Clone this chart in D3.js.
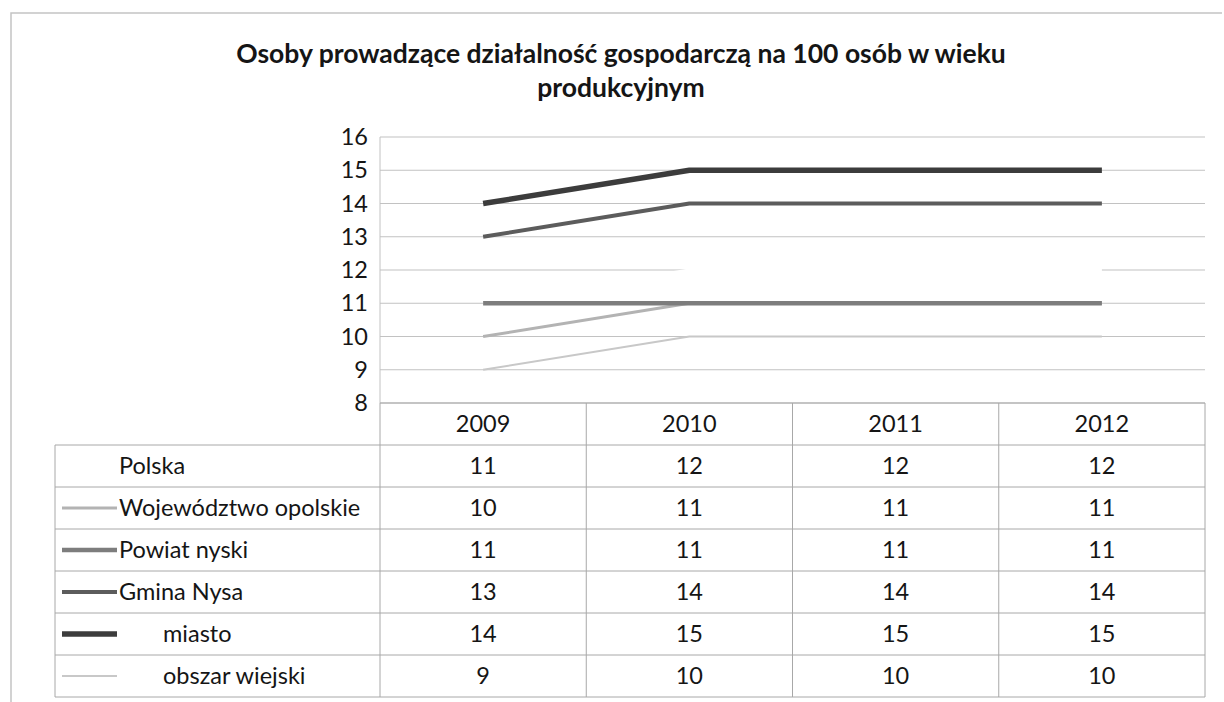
<!DOCTYPE html>
<html>
<head>
<meta charset="utf-8">
<script src="https://cdn.jsdelivr.net/npm/d3@7"></script>
<style>
  body { margin: 0; background: #fff; }
  svg text { font-family: Lato, "Open Sans", sans-serif; fill: #151515; }
</style>
</head>
<body>
<svg id="chart" width="1224" height="702"></svg>
<script>
// chart data
const years = ["2009", "2010", "2011", "2012"];
const seriesNames = ["Polska", "Województwo opolskie", "Powiat nyski", "Gmina Nysa", "miasto", "obszar wiejski"];
const seriesValues = [
  [11, 12, 12, 12],
  [10, 11, 11, 11],
  [11, 11, 11, 11],
  [13, 14, 14, 14],
  [14, 15, 15, 15],
  [9, 10, 10, 10]
];
const yTicks = [8, 9, 10, 11, 12, 13, 14, 15, 16];
const titleLines = ["Osoby prowadzące działalność gospodarczą na 100 osób w wieku", "produkcyjnym"];

// line look per series (grayscale, as printed)
const lineStyle = [
  { color: "#ffffff", width: 3, indent: false },
  { color: "#b3b3b3", width: 3, indent: false },
  { color: "#7d7d7d", width: 4.5, indent: false },
  { color: "#5c5c5c", width: 4, indent: false },
  { color: "#3c3c3c", width: 5.5, indent: true },
  { color: "#c8c8c8", width: 2, indent: true }
];

const svg = d3.select("#chart");
const plot = { left: 380, right: 1205, top: 137, bottom: 403 };
const rowH = 42;
const tableLeft = 55;
const fontSize = 23.5;

// outer frame (only top + left survive the scan)
svg.append("path")
  .attr("d", "M11,702 L11,13 L1222,13")
  .attr("fill", "none")
  .attr("stroke", "#c4c4c4")
  .attr("stroke-width", 1.5);

// title
svg.append("text")
  .attr("text-anchor", "middle")
  .attr("font-weight", "bold")
  .attr("font-size", 26.5)
  .selectAll("tspan")
  .data(titleLines)
  .join("tspan")
  .attr("x", 621)
  .attr("y", (d, i) => 63 + i * 34)
  .text((d) => d);

const x = d3.scaleBand().domain(years).range([plot.left, plot.right]);
const y = d3.scaleLinear().domain([8, 16]).range([plot.bottom, plot.top]);

// gridlines
svg.append("g")
  .selectAll("line")
  .data(yTicks)
  .join("line")
  .attr("x1", plot.left)
  .attr("x2", plot.right)
  .attr("y1", (d) => y(d))
  .attr("y2", (d) => y(d))
  .attr("stroke", "#c2c2c2")
  .attr("stroke-width", 1.2);

// y axis line + labels
svg.append("line")
  .attr("x1", plot.left).attr("x2", plot.left)
  .attr("y1", plot.top).attr("y2", plot.bottom)
  .attr("stroke", "#c2c2c2");

const yAxis = svg.append("g")
  .attr("transform", `translate(${plot.left - 12},0)`)
  .call(d3.axisLeft(y).tickValues(yTicks).tickSize(0).tickPadding(0));
yAxis.select(".domain").remove();
yAxis.selectAll("text")
  .attr("font-size", fontSize)
  .attr("font-family", "Lato, sans-serif")
  .attr("fill", "#151515");

// series lines
const line = d3.line()
  .x((d, i) => x(years[i]) + x.bandwidth() / 2)
  .y((d) => y(d));

svg.append("g")
  .selectAll("path")
  .data(seriesValues)
  .join("path")
  .attr("d", (d) => line(d))
  .attr("fill", "none")
  .attr("stroke", (d, i) => lineStyle[i].color)
  .attr("stroke-width", (d, i) => lineStyle[i].width)
  .attr("stroke-linejoin", "round");

// data table
const table = svg.append("g").attr("class", "data-table");
const nRows = seriesNames.length;
const tableBottom = plot.bottom + rowH * (nRows + 1);
const gridColor = "#a8a8a8";

// horizontal rules
d3.range(nRows + 2).forEach((r) => {
  const yy = plot.bottom + r * rowH;
  table.append("line")
    .attr("x1", r === 0 ? plot.left : tableLeft)
    .attr("x2", plot.right)
    .attr("y1", yy).attr("y2", yy)
    .attr("stroke", gridColor);
});

// vertical rules
table.append("line")
  .attr("x1", tableLeft).attr("x2", tableLeft)
  .attr("y1", plot.bottom + rowH).attr("y2", tableBottom)
  .attr("stroke", gridColor);
years.forEach((yr) => {
  const xx = x(yr);
  table.append("line")
    .attr("x1", xx).attr("x2", xx)
    .attr("y1", plot.bottom).attr("y2", tableBottom)
    .attr("stroke", gridColor);
});
table.append("line")
  .attr("x1", plot.right).attr("x2", plot.right)
  .attr("y1", plot.bottom).attr("y2", tableBottom)
  .attr("stroke", gridColor);

// header years
table.selectAll(".year")
  .data(years)
  .join("text")
  .attr("class", "year")
  .attr("x", (d) => x(d) + x.bandwidth() / 2)
  .attr("y", plot.bottom + rowH / 2)
  .attr("dy", "0.35em")
  .attr("text-anchor", "middle")
  .attr("font-size", fontSize)
  .text((d) => d);

// rows: legend key, name, values
seriesNames.forEach((name, r) => {
  const cy = plot.bottom + (r + 1.5) * rowH;
  const st = lineStyle[r];
  table.append("line")
    .attr("x1", 62).attr("x2", 117)
    .attr("y1", cy).attr("y2", cy)
    .attr("stroke", st.color)
    .attr("stroke-width", st.width);
  table.append("text")
    .attr("x", st.indent ? 163 : 119)
    .attr("y", cy)
    .attr("dy", "0.35em")
    .attr("font-size", fontSize)
    .text(name);
  table.selectAll(null)
    .data(seriesValues[r])
    .join("text")
    .attr("x", (d, i) => x(years[i]) + x.bandwidth() / 2)
    .attr("y", cy)
    .attr("dy", "0.35em")
    .attr("text-anchor", "middle")
    .attr("font-size", fontSize)
    .text((d) => d);
});
</script>
</body>
</html>
